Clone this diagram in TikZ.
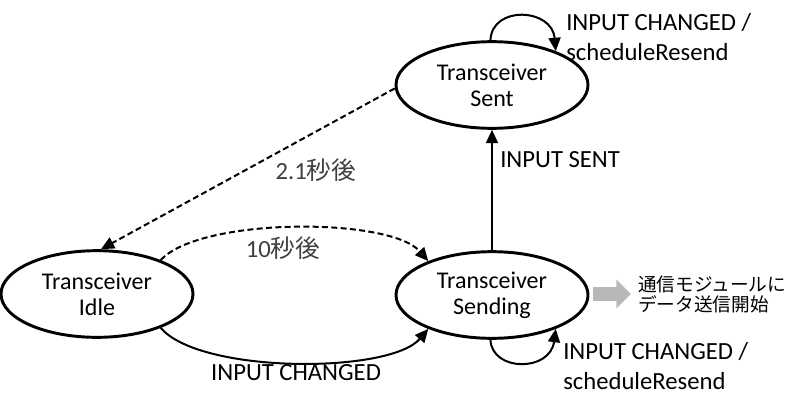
\documentclass[tikz,border=0pt]{standalone}
\usepackage{fontspec}
\setmainfont{Carlito}
\newfontfamily\jpfont{Noto Sans CJK JP}
\usetikzlibrary{arrows.meta,shapes.geometric}

\begin{document}
\begin{tikzpicture}[x=0.75pt,y=-0.75pt,
  every node/.style={font=\fontsize{18.5}{22.5}\selectfont},
  state/.style={draw,ellipse,line width=2.2pt,minimum width=144pt,
    minimum height=65pt,align=center,inner sep=0pt,
    font=\fontsize{18}{19.5}\selectfont},
  trans/.style={-{Triangle[length=10pt,width=9pt]},line width=1.5pt},
  timer/.style={dash pattern=on 4.5pt off 2.5pt},
  lbl/.style={align=left,inner sep=0pt},
  delay/.style={inner sep=0pt,text=black!75}
]
  \useasboundingbox (0,0) rectangle (800,407);

  % states
  \node[state] (sent) at (492,85) {Transceiver\\Sent};
  \node[state] (idle) at (97,294) {Transceiver\\Idle};
  \node[state] (sending) at (492,295) {Transceiver\\Sending};

  % transitions
  \draw[trans] (sent.92) .. controls (492,5) and (552,8) .. (sent.28);
  \draw[trans,timer] (sent.182) -- (idle.85);
  \draw[trans] (sending.north) -- (sent.south);
  \draw[trans,timer] (idle.28) .. controls (200,217) and (390,217) .. (sending.152);
  \draw[trans] (idle.-28) .. controls (200,374) and (390,374) .. (sending.208);
  \draw[trans] (sending.268) .. controls (492,372) and (550,372) .. (sending.-28);

  % labels
  \node[lbl,anchor=west] (lsent) at (566,37) {INPUT CHANGED /\\scheduleResend};
  \node[delay] (lto) at (316,170) {2.1\jpfont 秒後};
  \node[lbl,anchor=west] (lup) at (500,160) {INPUT SENT};
  \node[delay] (lwait) at (283,248) {10\jpfont 秒後};
  \node[lbl] (lchg) at (296,373) {INPUT CHANGED};
  \node[lbl,anchor=west] (lsend) at (563,366) {INPUT CHANGED /\\scheduleResend};

  % output to module
  \coordinate (outa) at (593,294);
  \coordinate (outb) at (631,294);
  \draw[line width=11pt,draw=black!28,
    -{Triangle[length=11pt,width=21pt]}] (outa) -- (outb);
  \node[lbl,anchor=west,font=\jpfont\fontsize{14}{15}\selectfont] (lout)
    at (638,294) {通信モジュールに\\データ送信開始};
\end{tikzpicture}
\end{document}
